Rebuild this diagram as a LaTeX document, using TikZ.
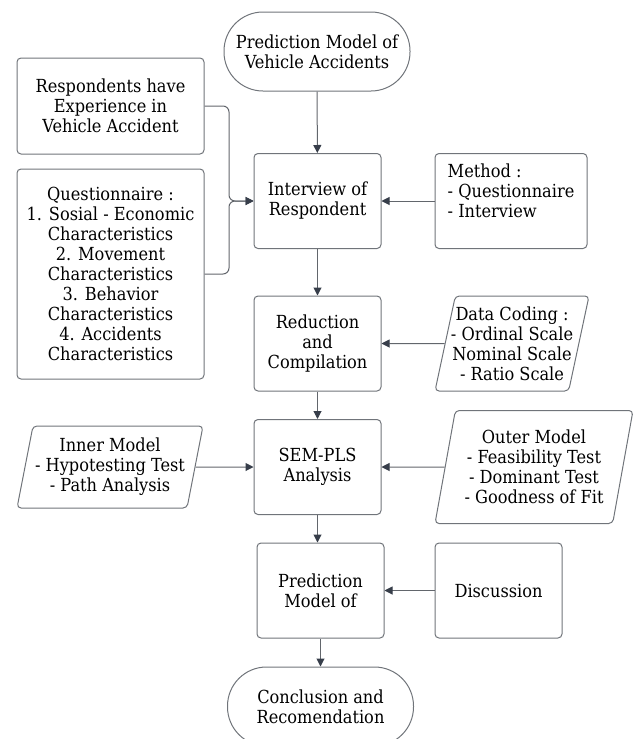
\documentclass[tikz,border=0pt]{standalone}
\usepackage{fontspec}
\setmainfont{DejaVu Serif Condensed}
\usepackage{tikz}
\usetikzlibrary{positioning, arrows.meta, shapes.geometric}
\usepackage{xcolor}
\definecolor{boxline}{RGB}{112,116,122}
\definecolor{lineclr}{RGB}{98,102,108}
\definecolor{tipclr}{RGB}{55,62,74}
\tikzset{every node/.append style={execute at begin node={\hyphenpenalty=10000\exhyphenpenalty=10000\relax}}}

\begin{document}
\begin{tikzpicture}[x=1pt, y=-1pt, font=\fontsize{18}{20}\selectfont,
  stepbox/.style={draw=boxline, line width=1pt, rounded corners=4pt, align=center, minimum width=127pt, minimum height=95pt, inner sep=2pt},
  sidebox/.style={stepbox, minimum width=187pt},
  termbox/.style={draw=boxline, line width=1pt, rounded corners=39pt, align=center, minimum width=186pt, minimum height=79pt},
  databox/.style={draw=boxline, line width=1pt, rounded corners=4pt, align=center, trapezium, trapezium left angle=75, trapezium right angle=105, trapezium stretches body, inner sep=1pt},
  flow/.style={draw=lineclr, line width=1pt, -{Triangle[length=8pt, width=8pt, color=tipclr]}}]
  \useasboundingbox (0,0) rectangle (634,739);

  % main column
  \node[termbox] (start) at (317,51.5) {Prediction Model of\\Vehicle Accidents};
  \node[stepbox] (interview) at (317.5,201) {Interview of\\Respondent};
  \node[stepbox] (reduce) at (317.5,343.5) {Reduction\\and\\Compilation};
  \node[stepbox] (sempls) at (317.5,467) {SEM-PLS\\Analysis};
  \node[stepbox] (predict) at (320.5,590.5) {Prediction\\Model of};
  \node[termbox] (finish) at (320.5,706.5) {Conclusion and\\Recomendation};

  % left side
  \node[sidebox, minimum height=96pt] (resp) at (110.5,106) {Respondents have\\Experience in\\Vehicle Accident};
  \node[sidebox, minimum height=210pt] (quest) at (110.5,274) {Questionnaire :\\1. Sosial - Economic\\Characteristics\\2. Movement\\Characteristics\\3. Behavior\\Characteristics\\4. Accidents\\Characteristics};
  \node[databox, minimum width=186pt, minimum height=82pt] (inner) at (110,467) {Inner Model\\- Hypotesting Test\\- Path Analysis};

  % right side
  \node[stepbox, minimum width=152pt, align=left] (method) at (511,201) {Method :\\- Questionnaire\\- Interview\\~};
  \node[databox, minimum width=154pt, minimum height=95pt, inner xsep=-5pt] (coding) at (512,343.5) {Data Coding :\\- Ordinal Scale\\Nominal Scale\\- Ratio Scale};
  \node[databox, minimum width=198pt, minimum height=113pt] (outer) at (534,467) {Outer Model\\- Feasibility Test\\- Dominant Test\\- Goodness of Fit};
  \node[stepbox] (discuss) at (498.5,590.5) {Discussion};

  \coordinate (join) at (229,201);

  \draw[flow] (start) -- (interview);
  \draw[flow] (interview) -- (reduce);
  \draw[flow] (reduce) -- (sempls);
  \draw[flow] (sempls.south) -- (sempls.south |- predict.north);
  \draw[flow] (predict) -- (finish);
  \draw[flow, rounded corners=6pt] (resp.east) -| (join) -- (interview.west);
  \draw[flow, rounded corners=6pt] (quest.east) -| (join) -- (interview.west);
  \draw[flow] (method.west) -- (interview.east);
  \draw[flow] (coding.west) -- (reduce.east);
  \draw[flow] (inner.east) -- (sempls.west);
  \draw[flow] (outer.west) -- (sempls.east);
  \draw[flow] (discuss.west) -- (predict.east);
\end{tikzpicture}
\end{document}
